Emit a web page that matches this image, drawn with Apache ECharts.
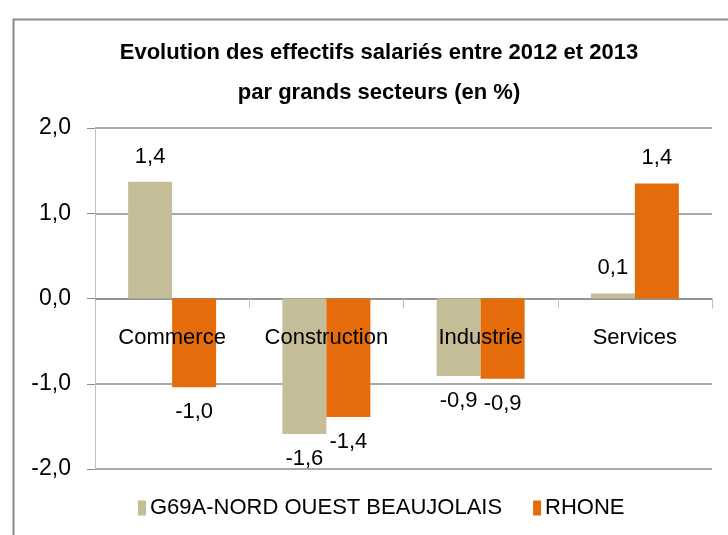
<!DOCTYPE html>
<html>
<head>
<meta charset="utf-8">
<script src="https://cdn.jsdelivr.net/npm/echarts@6/dist/echarts.min.js"></script>
<style>
  html, body { margin: 0; padding: 0; background: #fff; }
  #chart { width: 728px; height: 535px; }
</style>
</head>
<body>
<div id="chart"></div>
<script>
const categories = ['Commerce', 'Construction', 'Industrie', 'Services'];
const seriesNames = ['G69A-NORD OUEST BEAUJOLAIS', 'RHONE'];
const nordOuest = [1.37, -1.59, -0.91, 0.06];
const rhone = [-1.04, -1.39, -0.94, 1.35];
const colors = ['#C4BD97', '#E46C0A'];

const FONT = '"Liberation Sans", Arial, sans-serif';
const fmt = v => v.toFixed(1).replace('.', ',');

const chart = echarts.init(document.getElementById('chart'));

function barSeries(name, values, color) {
  return {
    name: name,
    type: 'bar',
    barWidth: 44,
    barGap: '0%',
    itemStyle: { color: color },
    data: values.map(v => ({
      value: v,
      label: { position: v < 0 ? 'bottom' : 'top' }
    })),
    label: {
      show: true,
      distance: 14,
      color: '#000',
      fontFamily: FONT,
      fontSize: 22,
      formatter: p => fmt(p.value)
    }
  };
}

chart.setOption({
  animation: false,
  color: colors,
  title: {
    text: 'Evolution des effectifs salariés entre 2012 et 2013\npar grands secteurs (en %)',
    left: 374,
    textAlign: 'center',
    top: 28,
    textStyle: {
      fontFamily: FONT,
      fontWeight: 'bold',
      fontSize: 22,
      lineHeight: 40,
      color: '#000'
    }
  },
  graphic: [{
    type: 'rect',
    left: 11, top: 17,
    shape: { width: 760, height: 560 },
    style: { fill: 'none', stroke: '#8c8c8c', lineWidth: 2 },
    silent: true
  }],
  grid: { left: 95, right: 16, top: 128, bottom: 66 },
  legend: {
    left: 133,
    top: 492,
    itemWidth: 8,
    itemHeight: 15,
    itemGap: 31,
    icon: 'rect',
    textStyle: { fontFamily: FONT, fontSize: 22, color: '#000', padding: [0, 0, 0, -1] },
    data: seriesNames
  },
  xAxis: [{
    type: 'category',
    data: categories,
    axisLine: { onZero: true, lineStyle: { color: '#8c8c8c', width: 1.5 } },
    axisTick: { show: true, length: 10, lineStyle: { color: '#c0c0c0' } },
    axisLabel: { show: false }
  }, {
    type: 'category',
    data: categories,
    position: 'bottom',
    z: 10,
    axisLine: { show: false },
    axisTick: { show: false },
    axisLabel: { interval: 0, margin: -142, color: '#000', fontFamily: FONT, fontSize: 22 }
  }],
  yAxis: {
    type: 'value',
    min: -2,
    max: 2,
    interval: 1,
    axisLine: { show: true, lineStyle: { color: '#c0c0c0' } },
    axisTick: { show: true, length: 8, lineStyle: { color: '#8c8c8c' } },
    splitLine: { lineStyle: { color: '#8c8c8c', width: 1.5 } },
    axisLabel: { margin: 24, color: '#000', fontFamily: FONT, fontSize: 23, formatter: v => fmt(v) }
  },
  series: [
    barSeries(seriesNames[0], nordOuest, colors[0]),
    barSeries(seriesNames[1], rhone, colors[1])
  ]
});
</script>
</body>
</html>
